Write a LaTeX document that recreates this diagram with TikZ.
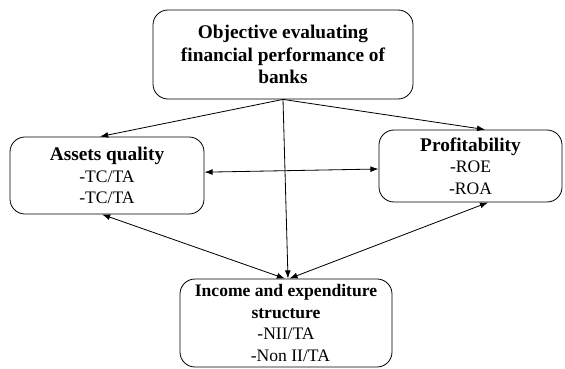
\documentclass[tikz,border=0pt]{standalone}
\usepackage{fontspec}
\setmainfont{Liberation Serif}
\usetikzlibrary{arrows.meta}
\tikzset{
    box/.style={draw, rounded corners=0.45cm, line width=0.7pt, align=center, inner sep=0pt},
    txt/.style={font=\fontsize{15}{18.5}\selectfont},
    head/.style={font=\fontsize{16.5}{19.5}\selectfont\bfseries},
    link/.style={line width=0.7pt}
}
\newcommand{\ttl}[1]{{\fontsize{16.5}{18.5}\selectfont\bfseries #1}}
\begin{document}
\begin{tikzpicture}[>={Latex[length=7pt,width=5pt]}, x=0.03cm, y=-0.03cm]
    \useasboundingbox (0,0) rectangle (565,369);
    % boxes
    \node[box, head, minimum width=7.8cm, minimum height=2.67cm] (obj) at (283,54.5)
        {Objective evaluating\\financial performance of\\banks};
    \node[box, txt, minimum width=5.82cm, minimum height=2.31cm] (assets) at (107,175.5)
        {\ttl{Assets quality}\\-TC/TA\\-TC/TA};
    \node[box, txt, minimum width=5.49cm, minimum height=2.16cm] (profit) at (470.5,166)
        {\ttl{Profitability}\\-ROE\\-ROA};
    \node[box, txt, minimum width=6.36cm, minimum height=2.64cm] (income) at (286,323)
        {\textbf{Income and expenditure}\\\textbf{structure}\\-NII/TA\\\ \ -Non II/TA};
    % connectors
    \draw[link,->] (obj.south) -- ([xshift=-0.21cm]assets.north);
    \draw[link,->] (obj.south) -- ([xshift=0.44cm]profit.north);
    \draw[link,->] (obj.south) -- ([xshift=0.06cm]income.north);
    \draw[link,<->] ([yshift=0.1cm]assets.east) -- ([yshift=-0.09cm]profit.west);
    \draw[link,<->] ([xshift=-0.15cm]assets.south) -- ([xshift=-0.03cm]income.north);
    \draw[link,<->] ([xshift=0.53cm]profit.south) -- ([xshift=0.1cm]income.north);
\end{tikzpicture}
\end{document}
